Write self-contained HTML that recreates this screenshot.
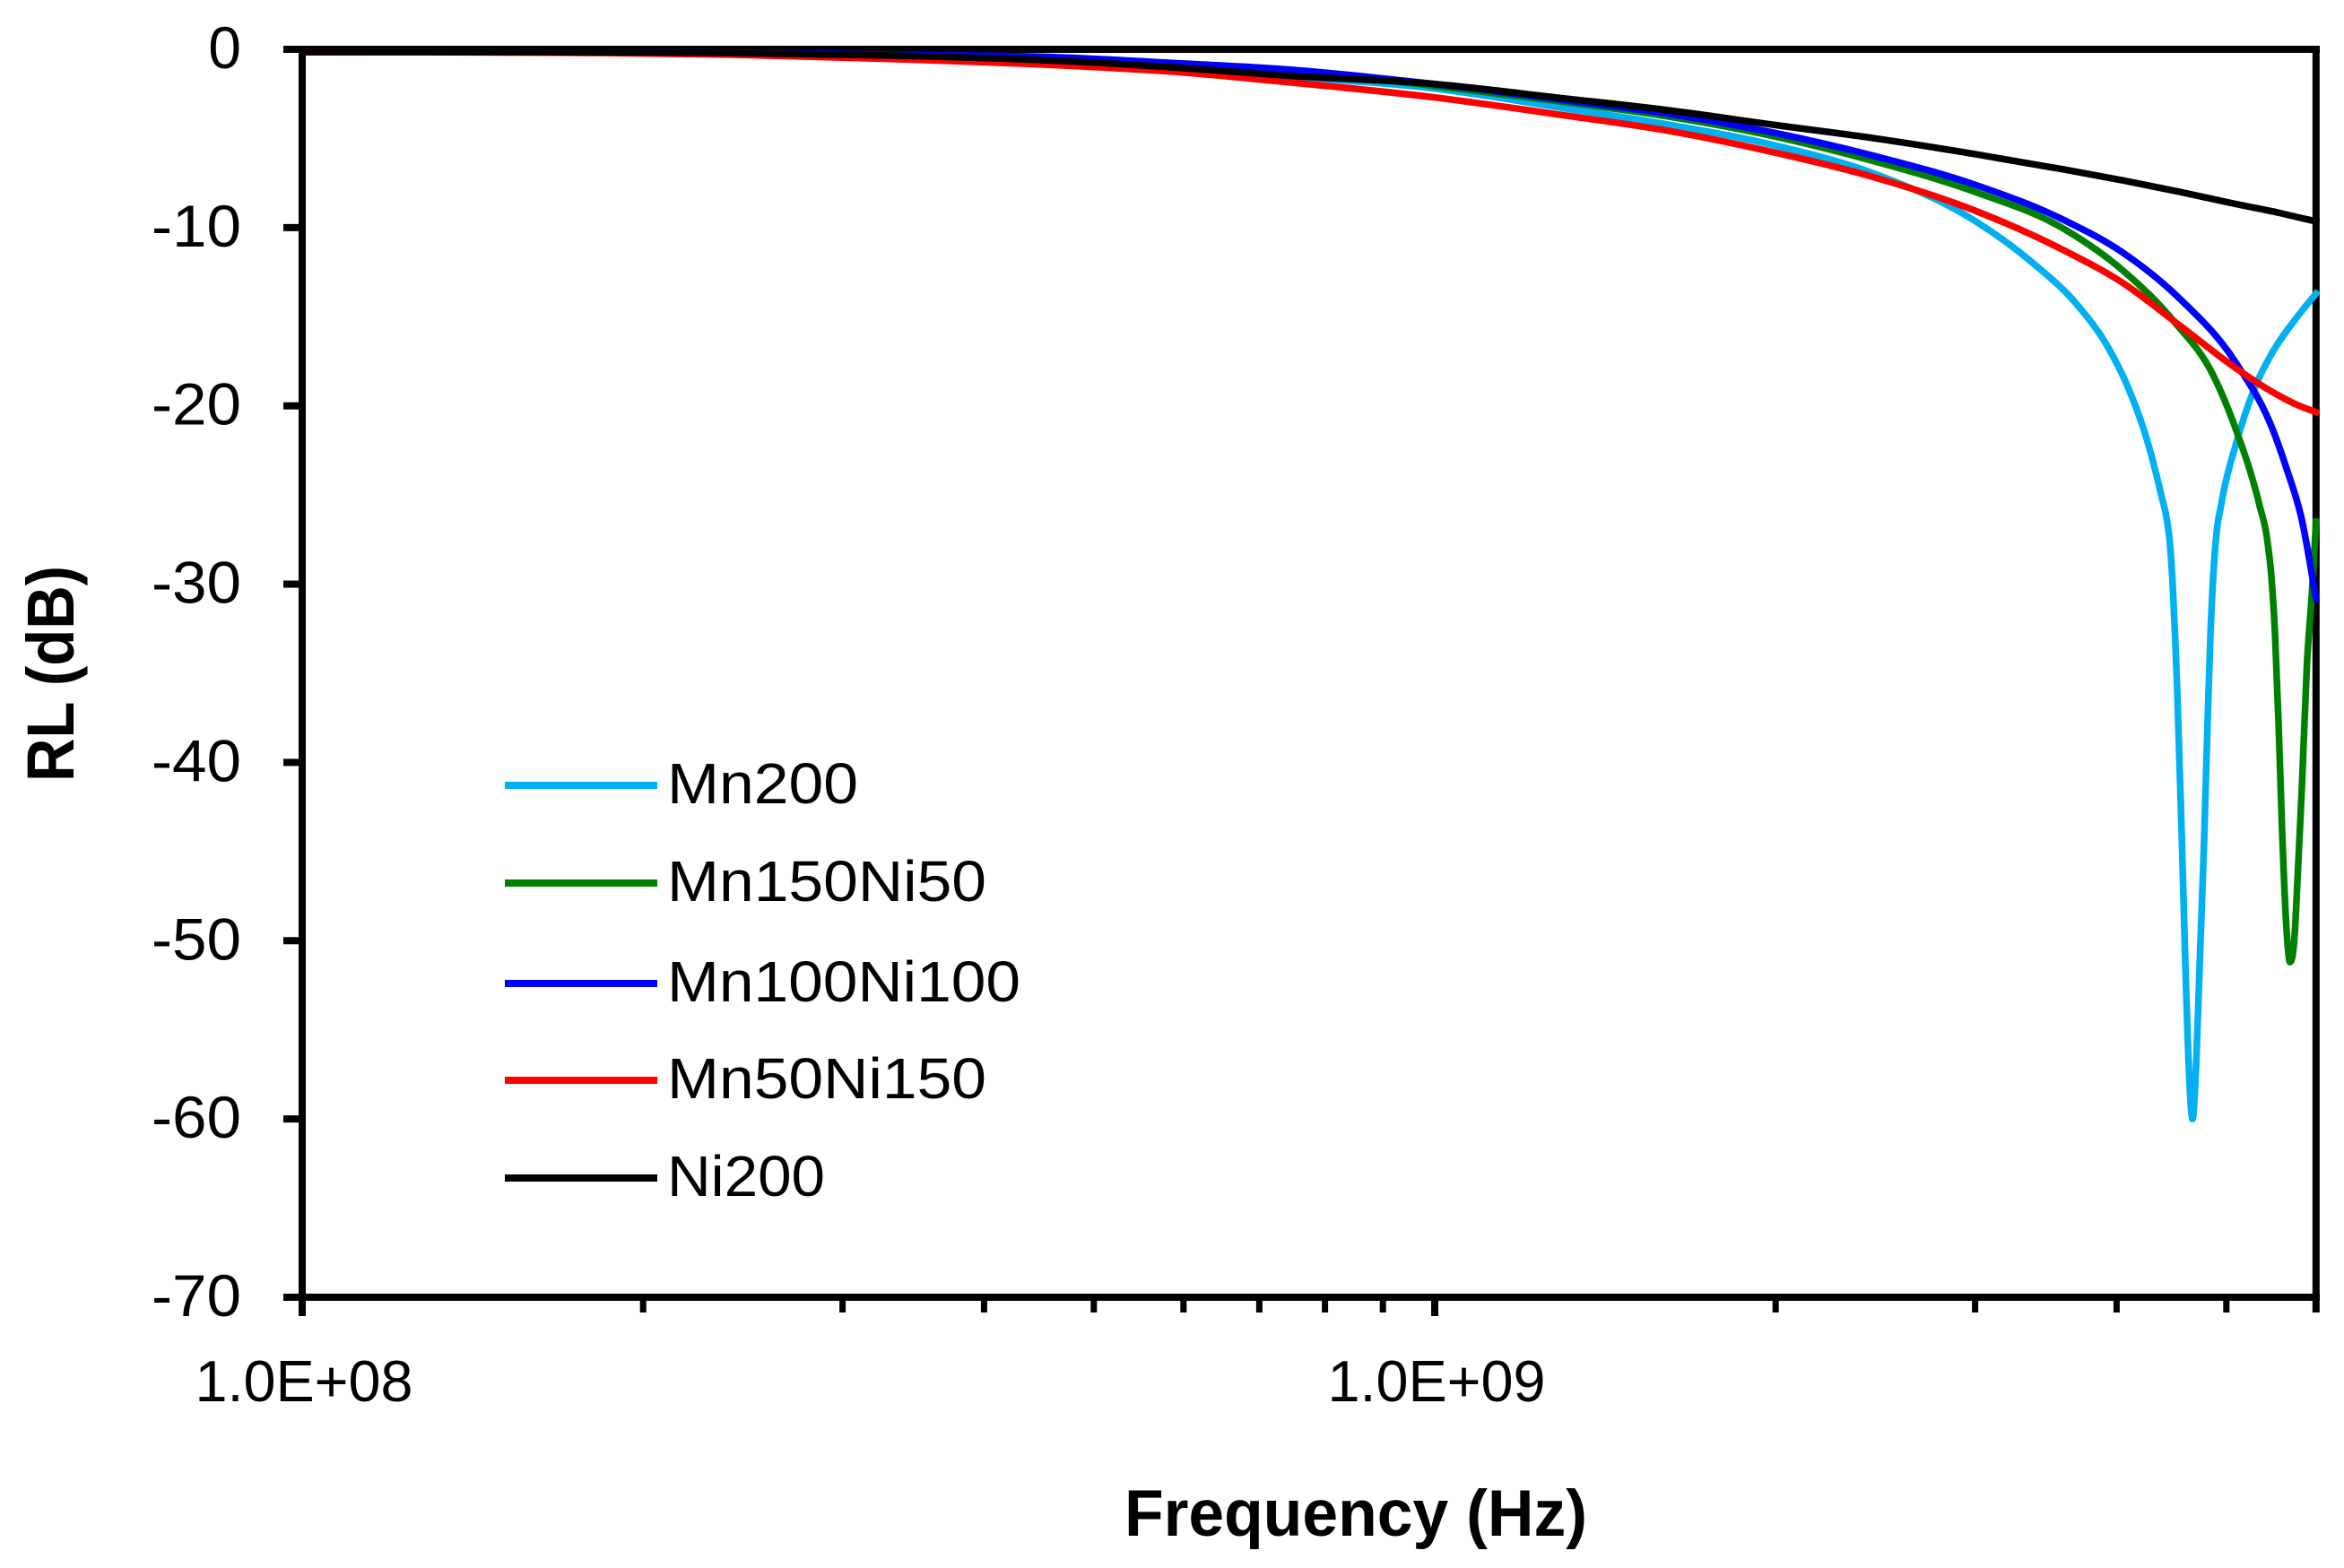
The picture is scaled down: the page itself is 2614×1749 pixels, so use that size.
<!DOCTYPE html>
<html lang="en">
<head>
<meta charset="utf-8">
<title>RL vs Frequency</title>
<style>
html,body{margin:0;padding:0;background:#fff;}
svg{display:block;}
text{font-family:"Liberation Sans",sans-serif;fill:#000;}
</style>
</head>
<body>
<svg id="chart" xmlns="http://www.w3.org/2000/svg" width="2614" height="1749" viewBox="0 0 2614 1749">
  <rect x="0" y="0" width="2614" height="1749" fill="#fff"/>
  <defs>
    <clipPath id="plot-clip"><rect x="337" y="40" width="2250" height="1420"/></clipPath>
  </defs>
  <g id="axes"></g>
  <g id="series" clip-path="url(#plot-clip)"></g>
  <text x="1512" y="1713" font-size="73" font-weight="700" text-anchor="middle" textLength="516" lengthAdjust="spacingAndGlyphs">Frequency (Hz)</text>
  <text transform="translate(82,872) rotate(-90)" font-size="74" font-weight="700" textLength="241" lengthAdjust="spacingAndGlyphs">RL (dB)</text>
  <g id="legend"></g>
</svg>
<script>
const yTickValues = [0, -10, -20, -30, -40, -50, -60, -70];
const yTickLabels = ["0", "-10", "-20", "-30", "-40", "-50", "-60", "-70"];
const xMajorTicks = [1e8, 1e9];
const xMajorLabels = ["1.0E+08", "1.0E+09"];
const xMinorTicks = [2e8, 3e8, 4e8, 5e8, 6e8, 7e8, 8e8, 9e8, 2e9, 3e9, 4e9, 5e9, 6e9];

const mn200Freq = [1e8, 1.6e8, 2.4e8, 3.35e8, 4.67e8, 6e8, 7.3e8, 1e9, 1.3e9, 1.6e9, 2e9, 2.45e9, 3e9, 3.37e9, 3.7e9, 3.93e9, 4.09e9, 4.25e9, 4.38e9, 4.436e9, 4.459e9, 4.483e9, 4.508e9, 4.525e9, 4.566e9, 4.6e9, 4.642e9, 4.667e9, 4.702e9, 4.736e9, 4.779e9, 4.814e9, 4.84e9, 4.868e9, 4.9e9, 4.949e9, 5.112e9, 5.28e9, 5.48e9, 5.76e9, 6e9];
const mn200Values = [-0.15, -0.17, -0.22, -0.4, -0.7, -1.1, -1.5, -2.2, -3.3, -4.2, -5.4, -7.0, -9.63, -11.96, -14.4, -16.7, -18.9, -21.8, -25.0, -26.6, -27.8, -30.0, -33.3, -36.0, -44.0, -51.3, -58.3, -60.0, -57.0, -51.3, -44.4, -37.5, -33.0, -29.6, -27.2, -25.5, -21.9, -19.2, -17.1, -15.1, -13.7];

const mn150Freq = [1e8, 1.6e8, 2.4e8, 3.35e8, 4.67e8, 6e8, 7.3e8, 1e9, 1.3e9, 1.6e9, 2e9, 2.45e9, 3e9, 3.6e9, 4.05e9, 4.5e9, 4.87e9, 5.09e9, 5.35e9, 5.43e9, 5.48e9, 5.52e9, 5.56e9, 5.6e9, 5.65e9, 5.69e9, 5.74e9, 5.78e9, 5.83e9, 5.89e9, 5.95e9, 6e9];
const mn150Values = [-0.15, -0.16, -0.19, -0.32, -0.5, -0.85, -1.15, -2.05, -2.95, -3.75, -4.9, -6.3, -8.0, -10.1, -12.4, -15.3, -18.3, -21.2, -25.6, -27.4, -29.6, -32.8, -37.8, -43.8, -49.3, -51.2, -50.0, -46.4, -41.4, -34.5, -30.5, -26.5];

const mn100Freq = [1e8, 1.6e8, 2.4e8, 3.35e8, 4.67e8, 6e8, 7.3e8, 1e9, 1.3e9, 1.6e9, 2e9, 2.45e9, 3e9, 3.6e9, 4.05e9, 4.55e9, 5.1e9, 5.5e9, 5.65e9, 5.83e9, 6e9];
const mn100Values = [-0.15, -0.16, -0.19, -0.3, -0.45, -0.8, -1.1, -1.95, -2.85, -3.6, -4.7, -6.0, -7.6, -9.6, -11.4, -14.0, -17.6, -21.4, -23.5, -26.4, -30.8];

const mn50Freq = [1e8, 1.6e8, 2.4e8, 3.35e8, 4.67e8, 6e8, 7.3e8, 1e9, 1.3e9, 1.6e9, 2e9, 2.45e9, 3e9, 3.6e9, 4.05e9, 4.55e9, 5.1e9, 5.5e9, 5.8e9, 6e9];
const mn50Values = [-0.15, -0.18, -0.3, -0.55, -0.9, -1.3, -1.8, -2.7, -3.7, -4.55, -5.8, -7.2, -9.05, -11.3, -13.1, -15.5, -17.9, -19.25, -20.0, -20.35];

const ni200Freq = [1e8, 1.6e8, 2.4e8, 3.35e8, 4.67e8, 6e8, 7.3e8, 1e9, 1.3e9, 1.6e9, 2e9, 2.45e9, 3e9, 3.6e9, 4.05e9, 4.55e9, 5.1e9, 5.5e9, 5.8e9, 6e9];
const ni200Values = [-0.15, -0.16, -0.2, -0.35, -0.65, -1.05, -1.45, -1.95, -2.75, -3.4, -4.25, -5.0, -5.88, -6.75, -7.35, -8.0, -8.68, -9.1, -9.44, -9.65];

const seriesNames = ["Mn200", "Mn150Ni50", "Mn100Ni100", "Mn50Ni150", "Ni200"];
const seriesColors = ["#00b0f0", "#008000", "#0000ff", "#ff0000", "#000000"];
const seriesFreqs = [mn200Freq, mn150Freq, mn100Freq, mn50Freq, ni200Freq];
const seriesValues = [mn200Values, mn150Values, mn100Values, mn50Values, ni200Values];

const SVGNS = "http://www.w3.org/2000/svg";
const X_LEFT = 337, DECADE_PX = 1263, Y_TOP = 55, Y_BOTTOM = 1447;
function xScale(f) { return X_LEFT + (Math.log10(f) - 8) * DECADE_PX; }
function yScale(v) { return Y_TOP + (-v / 70) * (Y_BOTTOM - Y_TOP); }

function make(tag, parent) {
  const el = document.createElementNS(SVGNS, tag);
  parent.appendChild(el);
  return el;
}
function setAttrs(el, attrs) {
  for (const k in attrs) el.setAttribute(k, attrs[k]);
}

/* smooth C1 cubic path (parabolic tangents, limited to avoid overshoot) */
function smoothPath(pts) {
  const n = pts.length, dx = [], m = [], t = [];
  for (let i = 0; i < n - 1; i++) {
    dx[i] = pts[i + 1][0] - pts[i][0];
    m[i] = (pts[i + 1][1] - pts[i][1]) / dx[i];
  }
  t[0] = m[0];
  t[n - 1] = m[n - 2];
  for (let i = 1; i < n - 1; i++) {
    if (m[i - 1] * m[i] <= 0) { t[i] = 0; continue; }
    const p = (m[i - 1] * dx[i] + m[i] * dx[i - 1]) / (dx[i - 1] + dx[i]);
    const limit = 3 * Math.min(Math.abs(m[i - 1]), Math.abs(m[i]));
    t[i] = Math.sign(p) * Math.min(Math.abs(p), limit);
  }
  let d = "M" + pts[0][0].toFixed(2) + " " + pts[0][1].toFixed(2);
  for (let i = 0; i < n - 1; i++) {
    const c1x = pts[i][0] + dx[i] / 3, c1y = pts[i][1] + t[i] * dx[i] / 3;
    const c2x = pts[i + 1][0] - dx[i] / 3, c2y = pts[i + 1][1] - t[i + 1] * dx[i] / 3;
    d += "C" + c1x.toFixed(2) + " " + c1y.toFixed(2) + " " + c2x.toFixed(2) + " " + c2y.toFixed(2) + " " + pts[i + 1][0].toFixed(2) + " " + pts[i + 1][1].toFixed(2);
  }
  return d;
}

const axes = document.getElementById("axes");

/* frame */
const frameLeft = make("rect", axes);


setAttrs(frameLeft, {x: X_LEFT - 4, y: Y_TOP - 4, width: 8, height: 1417, fill: "#000"});

const frameRight = make("rect", axes);


setAttrs(frameRight, {x: xScale(6e9) - 4, y: Y_TOP - 4, width: 8, height: 1413, fill: "#000"});

const frameTop = make("rect", axes);


setAttrs(frameTop, {x: 316, y: Y_TOP - 4, width: 2271, height: 8, fill: "#000"});

const frameBottom = make("rect", axes);


setAttrs(frameBottom, {x: 316, y: Y_BOTTOM - 4, width: 2271, height: 8, fill: "#000"});

/* y ticks */
yTickValues.forEach(function (v, i) {
  const tick = make("rect", axes);
  
  
  setAttrs(tick, {x: 316, y: yScale(v) - 4, width: 20, height: 8, fill: "#000"});

  const label = make("text", axes);
  
  
  setAttrs(label, {x: 269, y: yScale(v) + 21, "font-size": 66, "text-anchor": "end"});
  if (yTickLabels[i].length > 1) setAttrs(label, {textLength: 100, lengthAdjust: "spacingAndGlyphs"});
  label.textContent = yTickLabels[i];
});

/* x ticks */
xMajorTicks.forEach(function (f, i) {
  const tick = make("rect", axes);
  
  
  setAttrs(tick, {x: xScale(f) - 4, y: Y_BOTTOM, width: 8, height: 21, fill: "#000"});

  const label = make("text", axes);
  
  
  setAttrs(label, {x: xScale(f) + 2, y: 1563, "font-size": 65, "text-anchor": "middle", textLength: 243, lengthAdjust: "spacingAndGlyphs"});
  label.textContent = xMajorLabels[i];
});
xMinorTicks.forEach(function (f) {
  const tick = make("rect", axes);
  
  
  setAttrs(tick, {x: xScale(f) - 3.5, y: Y_BOTTOM, width: 7, height: 17, fill: "#000"});
});

/* series */
const seriesGroup = document.getElementById("series");
seriesNames.forEach(function (name, i) {
  const pts = seriesFreqs[i].map(function (f, j) {
    return [xScale(f), yScale(seriesValues[i][j])];
  });
  const path = make("path", seriesGroup);
  
  
  setAttrs(path, {d: smoothPath(pts), fill: "none", stroke: seriesColors[i], "stroke-width": 7.5, "stroke-linecap": "square", "stroke-linejoin": "round"});
});

/* legend */
const legendSwatchY = [876, 985, 1097, 1205, 1314];
const legendTextWidths = [213, 356, 394, 356, 176];
const legend = document.getElementById("legend");
seriesNames.forEach(function (name, i) {
  const line = make("line", legend);
  
  
  setAttrs(line, {x1: 563, x2: 733, y1: legendSwatchY[i], y2: legendSwatchY[i], stroke: seriesColors[i], "stroke-width": 8});

  const label = make("text", legend);
  
  
  setAttrs(label, {x: 744, y: legendSwatchY[i] + 20, "font-size": 64, textLength: legendTextWidths[i], lengthAdjust: "spacingAndGlyphs"});
  label.textContent = name;
});
</script>
</body>
</html>
